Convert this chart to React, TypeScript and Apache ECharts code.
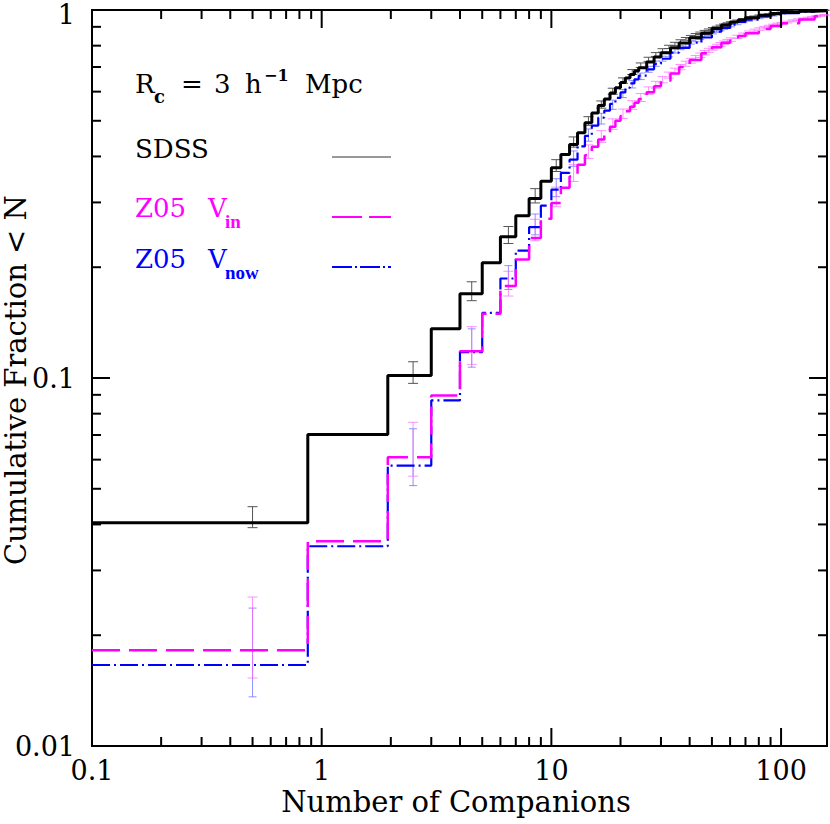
import React, { useEffect, useRef } from "react";
import * as echarts from "echarts";

const X_MIN = 0.1;
const X_MAX = 158.5;
const Y_MIN = 0.01;
const Y_MAX = 1;

const xTickLabels = ["0.1", "1", "10", "100"];
const yTickLabels = ["0.01", "0.1", "1"];
const xMinorTicks = [0.2, 0.3, 0.4, 0.5, 0.6, 0.7, 0.8, 0.9, 2, 3, 4, 5, 6, 7, 8, 9, 20, 30, 40, 50, 60, 70, 80, 90];
const yMinorTicks = [0.02, 0.03, 0.04, 0.05, 0.06, 0.07, 0.08, 0.09, 0.2, 0.3, 0.4, 0.5, 0.6, 0.7, 0.8, 0.9];

// step starts (number of companions)
const stepN = [0.1, 0.87, 1.94, 3, 4, 5, 6, 7, 8, 9, 10, 11, 12, 13, 14, 15, 16, 17, 18, 19, 20, 21, 22, 23, 24, 26, 28, 30, 33, 36, 40, 45, 50, 55, 60, 65, 70, 80, 90, 100, 120, 140];
const sdssF = [0.0404, 0.0702, 0.1016, 0.136, 0.1694, 0.2056, 0.242, 0.276, 0.3075, 0.3425, 0.3726, 0.405, 0.431, 0.464, 0.494, 0.525, 0.55, 0.573, 0.595, 0.615, 0.635, 0.653, 0.668, 0.683, 0.697, 0.722, 0.745, 0.765, 0.79, 0.814, 0.84, 0.865, 0.89, 0.91, 0.927, 0.94, 0.952, 0.968, 0.978, 0.985, 0.992, 0.996];
const vinF = [0.0182, 0.036, 0.0609, 0.0896, 0.1183, 0.1494, 0.1777, 0.21, 0.24, 0.271, 0.299, 0.329, 0.353, 0.38, 0.403, 0.425, 0.445, 0.464, 0.482, 0.5, 0.515, 0.531, 0.546, 0.56, 0.573, 0.598, 0.621, 0.642, 0.672, 0.7, 0.731, 0.763, 0.792, 0.815, 0.833, 0.85, 0.865, 0.888, 0.905, 0.92, 0.943, 0.962];
const vnowF = [0.0166, 0.0349, 0.0578, 0.0869, 0.1176, 0.1503, 0.1864, 0.222, 0.257, 0.294, 0.325, 0.361, 0.392, 0.426, 0.455, 0.485, 0.51, 0.533, 0.556, 0.577, 0.597, 0.615, 0.632, 0.648, 0.663, 0.69, 0.714, 0.737, 0.766, 0.789, 0.815, 0.842, 0.873, 0.894, 0.913, 0.928, 0.942, 0.96, 0.972, 0.98, 0.99, 0.995];

// error bars
const errN = [0.5, 2.5, 4.5, 6.5, 8.5, 10.5, 12.5, 14.5, 16.5, 18.5, 20.5, 22.5, 24.5, 26.5, 28.5, 30.5, 32.5, 34.5, 36.5, 38.5, 40.5, 42.5, 44.5, 46.5, 48.5, 50.5, 52.5, 54.5, 56.5, 58.5, 60.5, 64.5, 68.5, 72.5, 76.5, 80.5, 84.5, 88.5, 92.5, 96.5, 100.5, 106.5, 112.5, 118.5, 124.5, 130.5, 136.5, 142.5, 148.5, 154.5];
const sdssLo = [0.0392, 0.0967, 0.1622, 0.232, 0.299, 0.364, 0.424, 0.486, 0.541, 0.59, 0.632, 0.668, 0.698, 0.725, 0.748, 0.768, 0.786, 0.801, 0.815, 0.828, 0.839, 0.849, 0.858, 0.867, 0.876, 0.884, 0.892, 0.899, 0.906, 0.913, 0.919, 0.93, 0.94, 0.948, 0.956, 0.962, 0.966, 0.971, 0.975, 0.979, 0.982, 0.985, 0.988, 0.99, 0.992, 0.993, 0.994, 0.995, 0.996, 0.997];
const sdssHi = [0.0447, 0.1107, 0.1826, 0.258, 0.327, 0.392, 0.452, 0.513, 0.566, 0.613, 0.654, 0.689, 0.718, 0.744, 0.766, 0.785, 0.802, 0.817, 0.83, 0.842, 0.853, 0.863, 0.871, 0.88, 0.888, 0.896, 0.903, 0.91, 0.916, 0.923, 0.929, 0.939, 0.948, 0.956, 0.963, 0.969, 0.973, 0.977, 0.981, 0.984, 0.987, 0.99, 0.992, 0.994, 0.995, 0.996, 0.997, 0.998, 0.998, 0.999];
const vinLo = [0.0153, 0.0541, 0.1089, 0.167, 0.236, 0.292, 0.342, 0.395, 0.437, 0.474, 0.507, 0.537, 0.564, 0.59, 0.613, 0.634, 0.653, 0.671, 0.688, 0.703, 0.717, 0.73, 0.743, 0.755, 0.767, 0.778, 0.788, 0.797, 0.806, 0.814, 0.822, 0.837, 0.85, 0.862, 0.872, 0.88, 0.888, 0.895, 0.902, 0.909, 0.914, 0.922, 0.929, 0.936, 0.942, 0.947, 0.952, 0.957, 0.961, 0.965];
const vinHi = [0.0254, 0.0758, 0.1379, 0.195, 0.27, 0.33, 0.38, 0.43, 0.47, 0.506, 0.538, 0.567, 0.593, 0.618, 0.64, 0.66, 0.678, 0.695, 0.711, 0.726, 0.739, 0.752, 0.764, 0.776, 0.787, 0.797, 0.807, 0.816, 0.824, 0.832, 0.84, 0.854, 0.866, 0.877, 0.887, 0.895, 0.902, 0.909, 0.915, 0.921, 0.926, 0.933, 0.94, 0.946, 0.951, 0.956, 0.961, 0.965, 0.969, 0.972];
const vnowLo = [0.0136, 0.051, 0.107, 0.174, 0.245, 0.311, 0.376, 0.44, 0.49, 0.537, 0.578, 0.614, 0.647, 0.677, 0.703, 0.726, 0.746, 0.764, 0.78, 0.795, 0.808, 0.82, 0.831, 0.842, 0.852, 0.861, 0.87, 0.878, 0.886, 0.893, 0.9, 0.912, 0.923, 0.932, 0.94, 0.947, 0.953, 0.958, 0.963, 0.968, 0.973, 0.977, 0.981, 0.984, 0.987, 0.989, 0.991, 0.993, 0.994, 0.995];
const vnowHi = [0.0237, 0.0728, 0.136, 0.202, 0.279, 0.348, 0.414, 0.475, 0.524, 0.569, 0.608, 0.643, 0.674, 0.703, 0.727, 0.749, 0.768, 0.785, 0.8, 0.814, 0.826, 0.837, 0.848, 0.858, 0.868, 0.876, 0.885, 0.892, 0.9, 0.907, 0.913, 0.924, 0.934, 0.942, 0.95, 0.956, 0.961, 0.966, 0.971, 0.975, 0.98, 0.983, 0.987, 0.989, 0.991, 0.993, 0.995, 0.996, 0.997, 0.998];

const FONT = "DejaVu Serif";
const MAGENTA = "#ff00ff";
const BLUE = "#0000ff";

function stepData(f: number[]) {
  const d = stepN.map((n, i) => [n, f[i]]);
  d.push([X_MAX, f[f.length - 1]]);
  return d;
}

function errData(lo: number[], hi: number[]) {
  return errN.map((n, i) => [n, lo[i], hi[i]]);
}

function errSeries(lo: number[], hi: number[], color: string, cap: number, z: number) {
  return {
    type: "custom",
    silent: true,
    z,
    encode: { x: 0, y: [1, 2] },
    data: errData(lo, hi),
    renderItem: (params: any, api: any) => {
      const p1 = api.coord([api.value(0), api.value(1)]);
      const p2 = api.coord([api.value(0), api.value(2)]);
      const style = { stroke: color, lineWidth: 1 };
      return {
        type: "group",
        children: [
          { type: "line", shape: { x1: p1[0], y1: p1[1], x2: p2[0], y2: p2[1] }, style },
          { type: "line", shape: { x1: p1[0] - cap, y1: p1[1], x2: p1[0] + cap, y2: p1[1] }, style },
          { type: "line", shape: { x1: p2[0] - cap, y1: p2[1], x2: p2[0] + cap, y2: p2[1] }, style },
        ],
      };
    },
  };
}

function tickSeries(values: number[], major: boolean, dir: "x" | "y") {
  const len = major ? 18 : 9;
  return {
    type: "custom",
    silent: true,
    z: 20,
    encode: { x: 0, y: 1 },
    data: values.map((v) => (dir === "x" ? [v, Y_MIN] : [X_MIN, v])),
    renderItem: (params: any, api: any) => {
      const cs = params.coordSys;
      const p = api.coord([api.value(0), api.value(1)]);
      const style = { stroke: "#000", lineWidth: 2 };
      if (dir === "x") {
        const x = p[0];
        const yb = cs.y + cs.height;
        return {
          type: "group",
          children: [
            { type: "line", shape: { x1: x, y1: yb, x2: x, y2: yb - len }, style },
            { type: "line", shape: { x1: x, y1: cs.y, x2: x, y2: cs.y + len }, style },
          ],
        };
      }
      const y = p[1];
      const xr = cs.x + cs.width;
      return {
        type: "group",
        children: [
          { type: "line", shape: { x1: cs.x, y1: y, x2: cs.x + len, y2: y }, style },
          { type: "line", shape: { x1: xr, y1: y, x2: xr - len, y2: y }, style },
        ],
      };
    },
  };
}

// y tick labels, placed on the axis scale (kept inside the canvas at the top)
function yLabelSeries() {
  return {
    type: "custom",
    silent: true,
    z: 20,
    encode: { x: 0, y: 1 },
    data: yTickLabels.map((l) => [X_MIN, parseFloat(l)]),
    renderItem: (params: any, api: any) => {
      const cs = params.coordSys;
      const p = api.coord([api.value(0), api.value(1)]);
      const idx = params.dataIndex;
      return {
        type: "text",
        x: cs.x - 17,
        y: Math.max(p[1], 14.5),
        style: {
          text: yTickLabels[idx],
          fill: "#000",
          fontFamily: FONT,
          fontSize: 27,
          align: "right",
          verticalAlign: "middle",
        },
      };
    },
  };
}

function labelFormatter(labels: string[]) {
  return (v: number) => {
    for (const l of labels) {
      if (Math.abs(Math.log10(v) - Math.log10(parseFloat(l))) < 1e-6) return l;
    }
    return "";
  };
}

function txt(text: string, x: number, y: number, size: number, color: string, extra: any = {}) {
  return {
    type: "text",
    x,
    y,
    silent: true,
    style: {
      text,
      fill: color,
      fontFamily: FONT,
      fontSize: size,
      verticalAlign: "middle",
      align: "left",
      ...extra,
    },
  };
}

export default function App() {
  const ref = useRef<HTMLDivElement>(null);
  useEffect(() => {
    if (!ref.current) return;
    const chart = echarts.init(ref.current, null, { renderer: "svg" });
    const option: any = {
      animation: false,
      backgroundColor: "#fff",
      grid: {
        left: 92,
        top: 10,
        width: 736,
        height: 736,
        show: true,
        borderColor: "#000",
        borderWidth: 2,
        backgroundColor: "transparent",
      },
      xAxis: {
        type: "log",
        logBase: 10,
        min: X_MIN,
        max: X_MAX,
        axisLine: { show: true, lineStyle: { color: "#000", width: 2 } },
        axisTick: { show: false },
        splitLine: { show: false },
        axisLabel: {
          margin: 11,
          fontFamily: FONT,
          fontSize: 27,
          color: "#000",
          formatter: labelFormatter(xTickLabels),
        },
      },
      yAxis: {
        type: "log",
        logBase: 10,
        min: Y_MIN,
        max: Y_MAX,
        axisLine: { show: true, lineStyle: { color: "#000", width: 2 } },
        axisTick: { show: false },
        splitLine: { show: false },
        axisLabel: { show: false },
      },
      series: [
        errSeries(vnowLo, vnowHi, "rgba(100,100,255,0.7)", 4, 2),
        errSeries(vinLo, vinHi, "rgba(255,100,255,0.7)", 5, 3),
        errSeries(sdssLo, sdssHi, "#555", 5, 4),
        {
          type: "line",
          name: "Z05 Vnow",
          data: stepData(vnowF),
          step: "end",
          showSymbol: false,
          symbol: "none",
          z: 5,
          lineStyle: { color: BLUE, width: 2.2, type: [18, 4, 2, 4] },
        },
        {
          type: "line",
          name: "Z05 Vin",
          data: stepData(vinF),
          step: "end",
          showSymbol: false,
          symbol: "none",
          z: 6,
          lineStyle: { color: MAGENTA, width: 2.5, type: [28, 9] },
        },
        {
          type: "line",
          name: "SDSS",
          data: stepData(sdssF),
          step: "end",
          showSymbol: false,
          symbol: "none",
          z: 7,
          lineStyle: { color: "#000", width: 3, type: "solid" },
        },
        tickSeries(xTickLabels.map(parseFloat), true, "x"),
        tickSeries(xMinorTicks, false, "x"),
        tickSeries(yTickLabels.map(parseFloat), true, "y"),
        tickSeries(yMinorTicks, false, "y"),
        yLabelSeries(),
      ],
      graphic: [
        // axis titles
        txt("Number of Companions", 456, 802, 29, "#000", { align: "center" }),
        {
          type: "text",
          x: 16,
          y: 380,
          rotation: Math.PI / 2,
          silent: true,
          style: {
            text: "Cumulative Fraction < N",
            fill: "#000",
            fontFamily: FONT,
            fontSize: 29,
            align: "center",
            verticalAlign: "middle",
          },
        },
        // annotation line 1
        txt("R", 135, 84, 26, "#000"),
        txt("c", 154, 96, 18, "#000", { fontWeight: "bold" }),
        txt("=", 181, 84, 26, "#000"),
        txt("3", 214, 84, 26, "#000"),
        txt("h", 245, 84, 26, "#000"),
        txt("−1", 264, 75, 16, "#000", { fontWeight: "bold" }),
        txt("Mpc", 305, 84, 26, "#000"),
        // legend
        txt("SDSS", 135, 149, 26, "#000"),
        txt("Z05", 135, 208, 26, MAGENTA),
        txt("V", 208, 208, 26, MAGENTA),
        txt("in", 225, 221, 19, MAGENTA, { fontWeight: "bold", fontFamily: "Liberation Serif" }),
        txt("Z05", 135, 259, 26, BLUE),
        txt("V", 208, 259, 26, BLUE),
        txt("now", 225, 272, 19, BLUE, { fontWeight: "bold", fontFamily: "Liberation Serif" }),
        {
          type: "line",
          silent: true,
          shape: { x1: 332, y1: 157, x2: 391, y2: 157 },
          style: { stroke: "#333", lineWidth: 1 },
        },
        {
          type: "line",
          silent: true,
          shape: { x1: 332, y1: 217, x2: 391, y2: 217 },
          style: { stroke: MAGENTA, lineWidth: 2, lineDash: [30, 7] },
        },
        {
          type: "line",
          silent: true,
          shape: { x1: 332, y1: 267, x2: 391, y2: 267 },
          style: { stroke: BLUE, lineWidth: 2, lineDash: [20, 3, 2, 3] },
        },
      ],
    };
    chart.setOption(option);
    return () => chart.dispose();
  }, []);
  return (
    <div
      ref={ref}
      style={{ position: "fixed", left: 0, top: 0, width: 830, height: 824, background: "#fff" }}
    />
  );
}
